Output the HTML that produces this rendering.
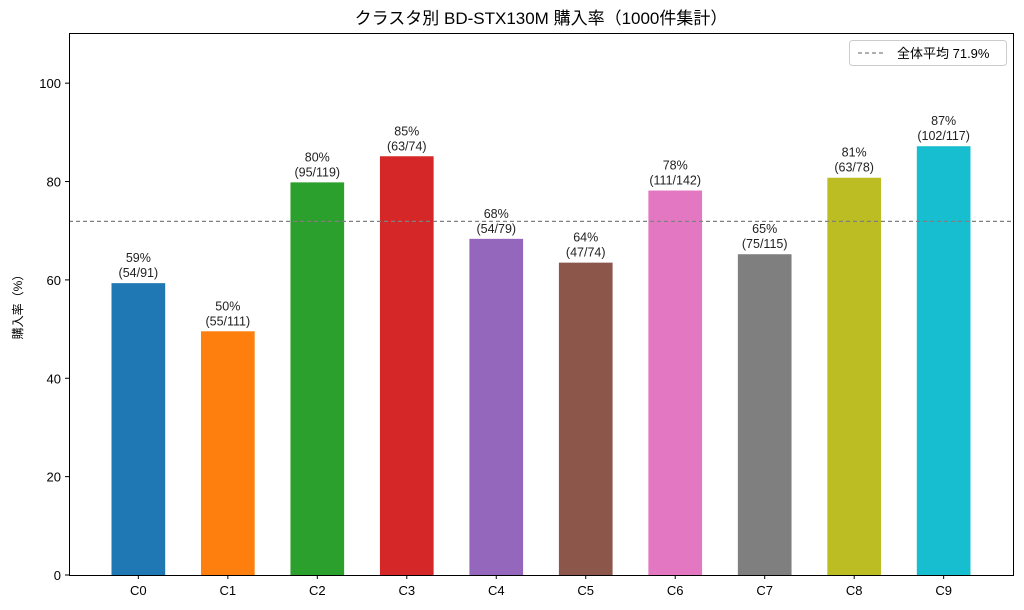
<!DOCTYPE html>
<html><head><meta charset="utf-8">
<style>
html,body{margin:0;padding:0;background:#fff;}
svg{display:block;font-family:"Liberation Sans","Noto Sans CJK JP",sans-serif;}
</style></head><body>
<svg id="chart" width="1024" height="610" xmlns="http://www.w3.org/2000/svg">
<text x="541" y="24" font-size="17" text-anchor="middle" fill="#000">クラスタ別 BD-STX130M 購入率（1000件集計）</text>
<text transform="translate(22,304) rotate(-90)" font-size="12" text-anchor="middle" fill="#000">購入率（%）</text>
<g id="plot"></g>
<rect x="69.5" y="33.5" width="944" height="542" fill="none" stroke="#000" stroke-width="1"/>
<g>
<rect x="849.5" y="40.5" width="157" height="25" fill="#fff" stroke="#ccc" rx="3"/>
<line x1="858" y1="53" x2="886" y2="53" stroke="#808080" stroke-width="1.3" stroke-dasharray="4,3"/>
<text x="897" y="58" font-size="13" fill="#000">全体平均 71.9%</text>
</g>
</svg>
<script>
const categories=["C0","C1","C2","C3","C4","C5","C6","C7","C8","C9"];
const buyers=[54,55,95,63,54,47,111,75,63,102];
const totals=[91,111,119,74,79,74,142,115,78,117];
const rates=[59.34,49.55,79.83,85.14,68.35,63.51,78.17,65.22,80.77,87.18];
const overallMean=[71.9];
const yTicks=[0,20,40,60,80,100];
const colors=["#1f77b4","#ff7f0e","#2ca02c","#d62728","#9467bd","#8c564b","#e377c2","#7f7f7f","#bcbd22","#17becf"];
const L=69,R=1013,T=33,B=575,yMax=110.2,xMin=-0.775,xMax=9.775;
const sx=v=>L+(v-xMin)/(xMax-xMin)*(R-L);
const sy=v=>B-v/yMax*(B-T);
const ns="http://www.w3.org/2000/svg";
const g=document.getElementById('plot');
function mk(tag,attrs,txt){const e=document.createElementNS(ns,tag);for(const k in attrs)e.setAttribute(k,attrs[k]);if(txt!=null)e.textContent=txt;g.appendChild(e);return e;}
yTicks.forEach(t=>{
 const y=sy(t);
 const l=mk('line',{x1:L-4,x2:L,y1:y,y2:y,stroke:'#000'});
 
 
 const tx=mk('text',{x:L-8,y:y+5,'font-size':13,'text-anchor':'end',fill:'#000'},t);
 
 
});
const bw=0.6*(sx(1)-sx(0));
categories.forEach((c,i)=>{
 const cx=sx(i),v=rates[i];
 const r=mk('rect',{x:cx-bw/2,y:sy(v),width:bw,height:B-sy(v),fill:colors[i]});
 
 
 const a=mk('text',{x:cx,y:sy(v)-21,'font-size':12.5,'text-anchor':'middle',fill:'#222'},Math.round(v)+'%');
 
 
 const b=mk('text',{x:cx,y:sy(v)-6,'font-size':12.5,'text-anchor':'middle',fill:'#222'},'('+buyers[i]+'/'+totals[i]+')');
 
 
 const tk=mk('line',{x1:cx,x2:cx,y1:B,y2:B+4,stroke:'#000'});
 
 
 const xl=mk('text',{x:cx,y:B+20,'font-size':13,'text-anchor':'middle',fill:'#000'},c);
 
 
});
const ml=mk('line',{x1:L,x2:R,y1:sy(overallMean[0]),y2:sy(overallMean[0]),stroke:'#808080','stroke-width':1.3,'stroke-dasharray':'4,3'});


</script>
</body></html>
